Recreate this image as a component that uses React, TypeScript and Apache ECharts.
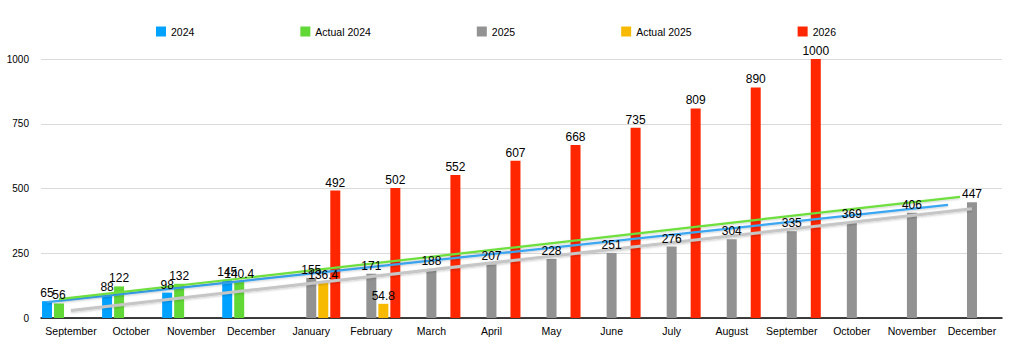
import React, { useEffect, useRef } from "react";
import * as echarts from "echarts";

const categories = [
  "September", "October", "November", "December",
  "January", "February", "March", "April", "May", "June",
  "July", "August", "September", "October", "November", "December",
];
const seriesNames = ["2024", "Actual 2024", "2025", "Actual 2025", "2026"];
const s2024 = [65, 88, 98, 145, null, null, null, null, null, null, null, null, null, null, null, null];
const actual2024 = [56, 122, 132, 140.4, null, null, null, null, null, null, null, null, null, null, null, null];
const s2025 = [null, null, null, null, 155, 171, 188, 207, 228, 251, 276, 304, 335, 369, 406, 447];
const actual2025 = [null, null, null, null, 136.4, 54.8, null, null, null, null, null, null, null, null, null, null];
const s2026 = [null, null, null, null, 492, 502, 552, 607, 668, 735, 809, 890, 1000, null, null, null];
const yTicks = { min: 0, max: 1000, interval: 250 };

const colors = ["#00a2ff", "#61d836", "#929292", "#f8ba00", "#ff2600"];
const trendColors = ["#3aa6f2", "#6ee03c", "#c6c6c6"];
const FONT = "'Liberation Sans', Arial, Helvetica, sans-serif";

const W = 1022;
const H = 355;
const GRID = { left: 41, right: 20, top: 59, bottom: 37 };
const BAR_W = 10;
const BAR_STEP = 12;

function regression(values: (number | null)[]) {
  const pts: [number, number][] = [];
  values.forEach((v, i) => {
    if (v != null) pts.push([i, v]);
  });
  const n = pts.length;
  const mx = pts.reduce((s, p) => s + p[0], 0) / n;
  const my = pts.reduce((s, p) => s + p[1], 0) / n;
  let num = 0;
  let den = 0;
  pts.forEach(([x, y]) => {
    num += (x - mx) * (y - my);
    den += (x - mx) * (x - mx);
  });
  const b = num / den;
  const a = my - b * mx;
  return { a, b };
}

export default function App() {
  const ref = useRef<HTMLDivElement>(null);
  useEffect(() => {
    if (!ref.current) return;
    const chart = echarts.init(ref.current, undefined, { renderer: "svg" });
    const all = [s2024, actual2024, s2025, actual2025, s2026];
    const catW = (W - GRID.left - GRID.right) / categories.length;
    const last = categories.length - 1;

    const trendLine = (idx: number) => {
      const { a, b } = regression(all[idx]);
      const off = ((idx - 2) * BAR_STEP) / catW;
      const color = idx === 2 ? trendColors[2] : trendColors[idx];
      return {
        type: "line",
        xAxisIndex: 1,
        yAxisIndex: 0,
        data: [
          [0 + off, a],
          [last + off, a + b * last],
        ],
        symbol: "none",
        silent: true,
        z: 3,
        lineStyle: {
          color,
          width: idx === 2 ? 3 : 2.2,
          shadowColor: "rgba(0,0,0,0.2)",
          shadowBlur: 2,
          shadowOffsetY: 1,
        },
      };
    };

    const barSeries = all.map((d, i) => ({
      name: seriesNames[i],
      type: "bar",
      xAxisIndex: 0,
      data: d,
      barWidth: BAR_W,
      barGap: "20%",
      itemStyle: { color: colors[i] },
      z: 2,
    }));

    const labelSeries = all.map((d, i) => ({
      name: "label-" + seriesNames[i],
      type: "bar",
      xAxisIndex: 2,
      data: d,
      barWidth: BAR_W,
      barGap: "20%",
      silent: true,
      itemStyle: { color: "rgba(0,0,0,0)" },
      z: 5,
      label: {
        show: true,
        position: "top",
        distance: 2,
        color: "#000",
        fontSize: 12,
        fontFamily: FONT,
      },
    }));

    chart.setOption({
      animation: false,
      color: colors,
      textStyle: { fontFamily: FONT },
      legend: {
        data: seriesNames,
        left: 151,
        top: 21,
        itemGap: 106,
        itemWidth: 10,
        itemHeight: 10,
        icon: "rect",
        textStyle: { fontSize: 10.5, color: "#000", fontFamily: FONT },
      },
      grid: { ...GRID, containLabel: false },
      xAxis: [
        {
          type: "category",
          data: categories,
          axisLine: { show: true, lineStyle: { color: "#000", width: 1.5 } },
          axisTick: { show: false },
          axisLabel: { color: "#000", fontSize: 10.5, margin: 7, fontFamily: FONT, interval: 0 },
        },
        {
          type: "value",
          min: -0.5,
          max: categories.length - 0.5,
          show: false,
        },
        {
          type: "category",
          data: categories,
          show: false,
        },
      ],
      yAxis: {
        type: "value",
        min: yTicks.min,
        max: yTicks.max,
        interval: yTicks.interval,
        axisLine: { show: false },
        axisTick: { show: false },
        axisLabel: {
          color: "#000",
          fontSize: 10,
          margin: 12,
          fontFamily: FONT,
          formatter: (v: number) => String(v),
        },
        splitLine: { lineStyle: { color: "#dadada", width: 1 } },
      },
      series: [...barSeries, trendLine(2), trendLine(0), trendLine(1), ...labelSeries],
    });
    return () => chart.dispose();
  }, []);
  return (
    <div
      ref={ref}
      style={{ position: "absolute", left: 0, top: 0, width: W, height: H, background: "#fff" }}
    />
  );
}
